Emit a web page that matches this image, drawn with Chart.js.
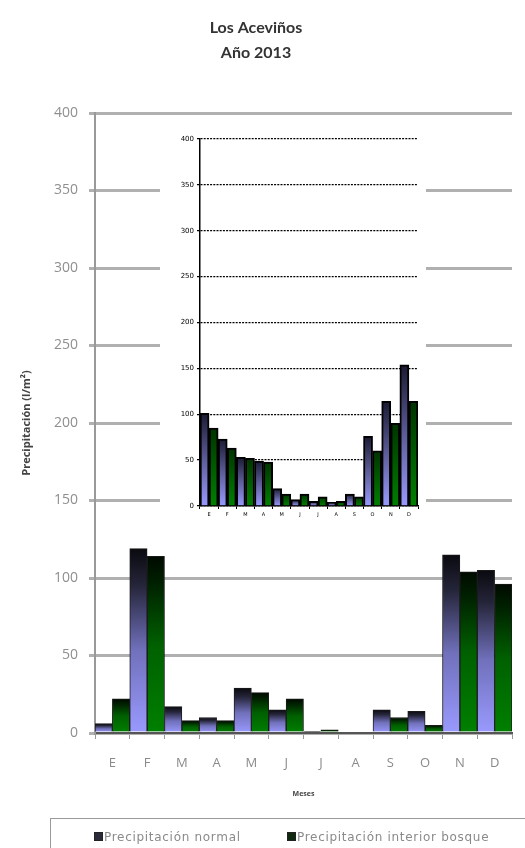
<!DOCTYPE html>
<html>
<head>
<meta charset="utf-8">
<script src="https://cdn.jsdelivr.net/npm/chart.js@4"></script>
<style>
  body { margin: 0; background: #fff; }
  #wrap { position: relative; width: 525px; height: 848px; overflow: hidden; }
  #mainBox { position: absolute; left: 0; top: 0; width: 525px; height: 848px; }
  #insetBox { position: absolute; left: 160px; top: 116px; width: 266px; height: 405px; background: #fff; }
  #legend { position: absolute; left: 50px; top: 818px; width: 500px; height: 40px; border: 1px solid #9a9a9a; }
  .item { position: absolute; top: 11px; font: 12px "DejaVu Sans", sans-serif; letter-spacing: 0.7px; color: #8a8a8a; white-space: nowrap; }
  .sw { display: inline-block; width: 7px; height: 7px; border: 1px solid #222; margin-right: 1px; vertical-align: 0px; }
</style>
</head>
<body>
<div id="wrap">
  <div id="mainBox"><canvas id="mainChart"></canvas></div>
  <div id="insetBox"><canvas id="insetChart"></canvas></div>
  <div id="legend"></div>
</div>
<script>
// months and tick labels
const months = ['E', 'F', 'M', 'A', 'M', 'J', 'J', 'A', 'S', 'O', 'N', 'D'];
const seriesNames = ['Precipitación normal', 'Precipitación interior bosque'];

// main chart, year 2013
const normal2013 = [6, 119, 17, 10, 29, 15, 1, 0, 15, 14, 115, 105];
const bosque2013 = [22, 114, 8, 8, 26, 22, 2, 0, 10, 5, 104, 96];

// small chart inside
const normalInset = [101, 73, 53, 49, 19, 7, 5, 4, 13, 76, 114, 154];
const bosqueInset = [85, 63, 52, 48, 13, 13, 10, 5, 10, 60, 90, 114];

const yMax = 400;
const yStep = 50;

// gradient from bottom of bar to its top
function barGradient(stops, fallback) {
    return function (ctx) {
        const chart = ctx.chart;
        if (!chart.chartArea || ctx.raw === undefined) return fallback;
        const y = chart.scales.y;
        const base = y.getPixelForValue(0);
        const top = y.getPixelForValue(ctx.raw);
        if (!(base - top > 1)) return fallback;
        const g = chart.ctx.createLinearGradient(0, base, 0, top);
        stops.forEach(s => g.addColorStop(s[0], s[1]));
        return g;
    };
}

const blueMain = [[0, '#9a9aff'], [0.45, '#7070bb'], [0.8, '#25253a'], [1, '#0a0a10']];
const greenMain = [[0, '#008000'], [0.5, '#006000'], [0.85, '#002000'], [1, '#000a00']];
const blueInset = [[0, '#9999ff'], [0.5, '#5d5d99'], [1, '#1a1a33']];
const greenInset = [[0, '#008000'], [0.5, '#005a00'], [1, '#003300']];

Chart.defaults.animation = false;

const mainChart = new Chart(document.getElementById('mainChart'), {
    type: 'bar',
    data: {
        labels: months,
        datasets: [
            { label: seriesNames[0], data: normal2013, backgroundColor: barGradient(blueMain, '#1a1a2a'),
              borderColor: '#1a1a1a', borderWidth: 1, categoryPercentage: 1, barPercentage: 1 },
            { label: seriesNames[1], data: bosque2013, backgroundColor: barGradient(greenMain, '#002000'),
              borderColor: '#1a1a1a', borderWidth: 1, categoryPercentage: 1, barPercentage: 1 }
        ]
    },
    options: {
        responsive: true,
        maintainAspectRatio: false,
        layout: { padding: { left: 0, right: 13, top: 0, bottom: 50 } },
        plugins: {
            legend: { display: false },
            tooltip: { enabled: false },
            title: {
                display: true,
                text: ['Los Aceviños', 'Año 2013'],
                color: '#333',
                font: { family: 'Lato', size: 16, weight: 'bold', lineHeight: 1.5625 },
                padding: { top: 15, bottom: 48 }
            }
        },
        scales: {
            x: {
                grid: { display: true, drawOnChartArea: false, drawTicks: true, tickLength: 6, color: '#999', lineWidth: 1 },
                border: { color: '#555', width: 2 },
                ticks: { color: '#8a8a8a', font: { family: 'Open Sans', size: 13 }, padding: 16 },
                title: { display: true, text: 'Meses', color: '#444', font: { family: 'Open Sans', size: 7, weight: 'bold' }, padding: { top: 0, bottom: 0 } },
                afterFit: s => { s.height = 65; }
            },
            y: {
                min: 0,
                max: yMax,
                ticks: { stepSize: yStep, color: '#8f8f8f', font: { family: 'Open Sans', size: 14 }, padding: 11 },
                grid: { color: '#b0b0b0', lineWidth: 3, tickLength: 6 },
                border: { color: '#999', width: 2 },
                title: { display: true, text: 'Precipitación (l/m²)', color: '#444', font: { family: 'Open Sans', size: 11, weight: 'bold' }, padding: { top: 20, bottom: 0 } },
                afterFit: s => { s.width = 95; }
            }
        }
    }
});

const insetChart = new Chart(document.getElementById('insetChart'), {
    type: 'bar',
    data: {
        labels: months,
        datasets: [
            { label: seriesNames[0], data: normalInset, backgroundColor: barGradient(blueInset, '#1a1a33'),
              borderColor: '#000', borderWidth: 2, categoryPercentage: 1, barPercentage: 1 },
            { label: seriesNames[1], data: bosqueInset, backgroundColor: barGradient(greenInset, '#003300'),
              borderColor: '#000', borderWidth: 2, categoryPercentage: 1, barPercentage: 1 }
        ]
    },
    options: {
        responsive: true,
        maintainAspectRatio: false,
        layout: { padding: { left: 0, right: 8, top: 23, bottom: 0 } },
        plugins: { legend: { display: false }, tooltip: { enabled: false } },
        scales: {
            x: {
                grid: { display: true, drawOnChartArea: false, drawTicks: true, tickLength: 3, color: '#000', lineWidth: 1 },
                border: { color: '#000', width: 1.5 },
                ticks: { color: '#000', font: { family: 'DejaVu Sans', size: 5 }, padding: 3 },
                afterFit: s => { s.height = 15; }
            },
            y: {
                min: 0,
                max: yMax,
                ticks: { stepSize: yStep, color: '#000', font: { family: 'DejaVu Sans', size: 7 }, padding: 3 },
                grid: { color: '#000', lineWidth: 1.3, tickLength: 3 },
                border: { color: '#000', width: 1.5, dash: [2, 1.2] },
                afterFit: s => { s.width = 40; }
            }
        }
    }
});

// legend built from the dataset labels
const legend = document.getElementById('legend');
const legendX = [43, 236];
const swatch = ['#2a2a3a', '#0f2a0f'];
mainChart.data.datasets.forEach((ds, i) => {
    const item = document.createElement('div');
    item.className = 'item';
    item.style.left = legendX[i] + 'px';
    item.innerHTML = '<span class="sw" style="background:' + swatch[i] + '"></span>' + ds.label;
    legend.appendChild(item);
});
</script>
</body>
</html>
